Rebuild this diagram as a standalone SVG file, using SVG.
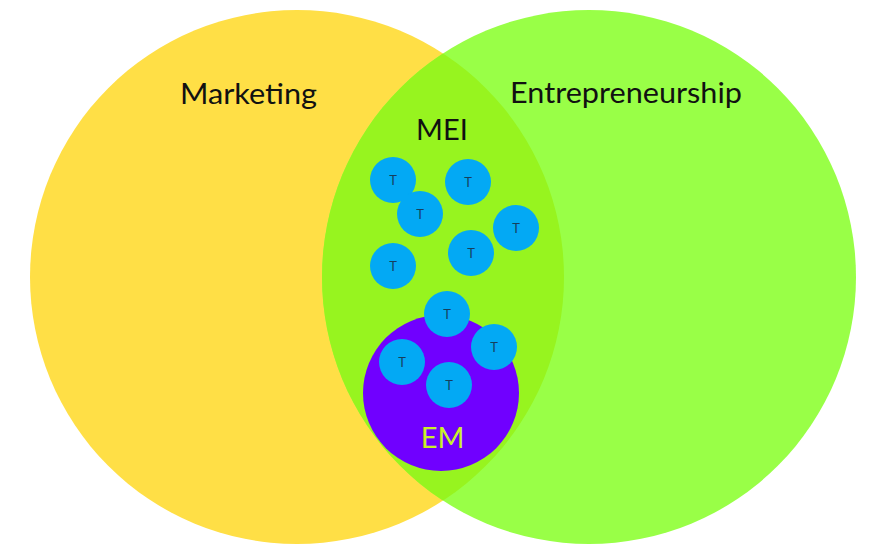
<svg xmlns="http://www.w3.org/2000/svg" width="883" height="559" viewBox="0 0 883 559">
  <defs>
    <style>
      .lbl { font-family: Lato, "Open Sans", "Liberation Sans", sans-serif; font-size: 29px; fill: #111111; text-anchor: middle; }
      .em { font-family: Lato, "Open Sans", "Liberation Sans", sans-serif; font-size: 29px; fill: #C9F02A; text-anchor: middle; }
      .tc { fill: #03A9F4; }
      .tt { font-family: Lato, "Open Sans", "Liberation Sans", sans-serif; font-size: 13px; fill: #163F5C; text-anchor: middle; }
    </style>
    <clipPath id="yellowClip">
      <circle cx="297" cy="277" r="267"/>
    </clipPath>
  </defs>
  <rect width="883" height="559" fill="#FFFFFF"/>

  <g id="marketing">
    <circle cx="297" cy="277" r="267" fill="#FFDF46"/>
    <text class="lbl" x="248.5" y="104" textLength="137" lengthAdjust="spacingAndGlyphs">Marketing</text>
  </g>

  <g id="entrepreneurship">
    <circle cx="589" cy="277" r="267" fill="#99FF47"/>
    <text class="lbl" x="626" y="103" textLength="232" lengthAdjust="spacingAndGlyphs">Entrepreneurship</text>
  </g>

  <g id="mei">
    <circle cx="589" cy="277" r="267" fill="#97F41F" clip-path="url(#yellowClip)"/>
    <text class="lbl" x="442" y="140">MEI</text>
  </g>

  <g id="em">
    <circle cx="441" cy="393" r="78" fill="#7000FF"/>
    <text class="em" x="442.5" y="448">EM</text>
  </g>

  <g id="t1"><circle class="tc" cx="393" cy="180" r="23"/><text class="tt" x="393" y="185">T</text></g>
  <g id="t2"><circle class="tc" cx="468" cy="182" r="23"/><text class="tt" x="468" y="187">T</text></g>
  <g id="t3"><circle class="tc" cx="420" cy="214" r="23"/><text class="tt" x="420" y="219">T</text></g>
  <g id="t4"><circle class="tc" cx="516" cy="228" r="23"/><text class="tt" x="516" y="233">T</text></g>
  <g id="t5"><circle class="tc" cx="471" cy="253" r="23"/><text class="tt" x="471" y="258">T</text></g>
  <g id="t6"><circle class="tc" cx="393" cy="266" r="23"/><text class="tt" x="393" y="271">T</text></g>
  <g id="t7"><circle class="tc" cx="447" cy="314" r="23"/><text class="tt" x="447" y="319">T</text></g>
  <g id="t8"><circle class="tc" cx="402" cy="362" r="23"/><text class="tt" x="402" y="367">T</text></g>
  <g id="t9"><circle class="tc" cx="494" cy="347" r="23"/><text class="tt" x="494" y="352">T</text></g>
  <g id="t10"><circle class="tc" cx="449" cy="385" r="23"/><text class="tt" x="449" y="390">T</text></g>

  <g id="connectors"></g>
</svg>
